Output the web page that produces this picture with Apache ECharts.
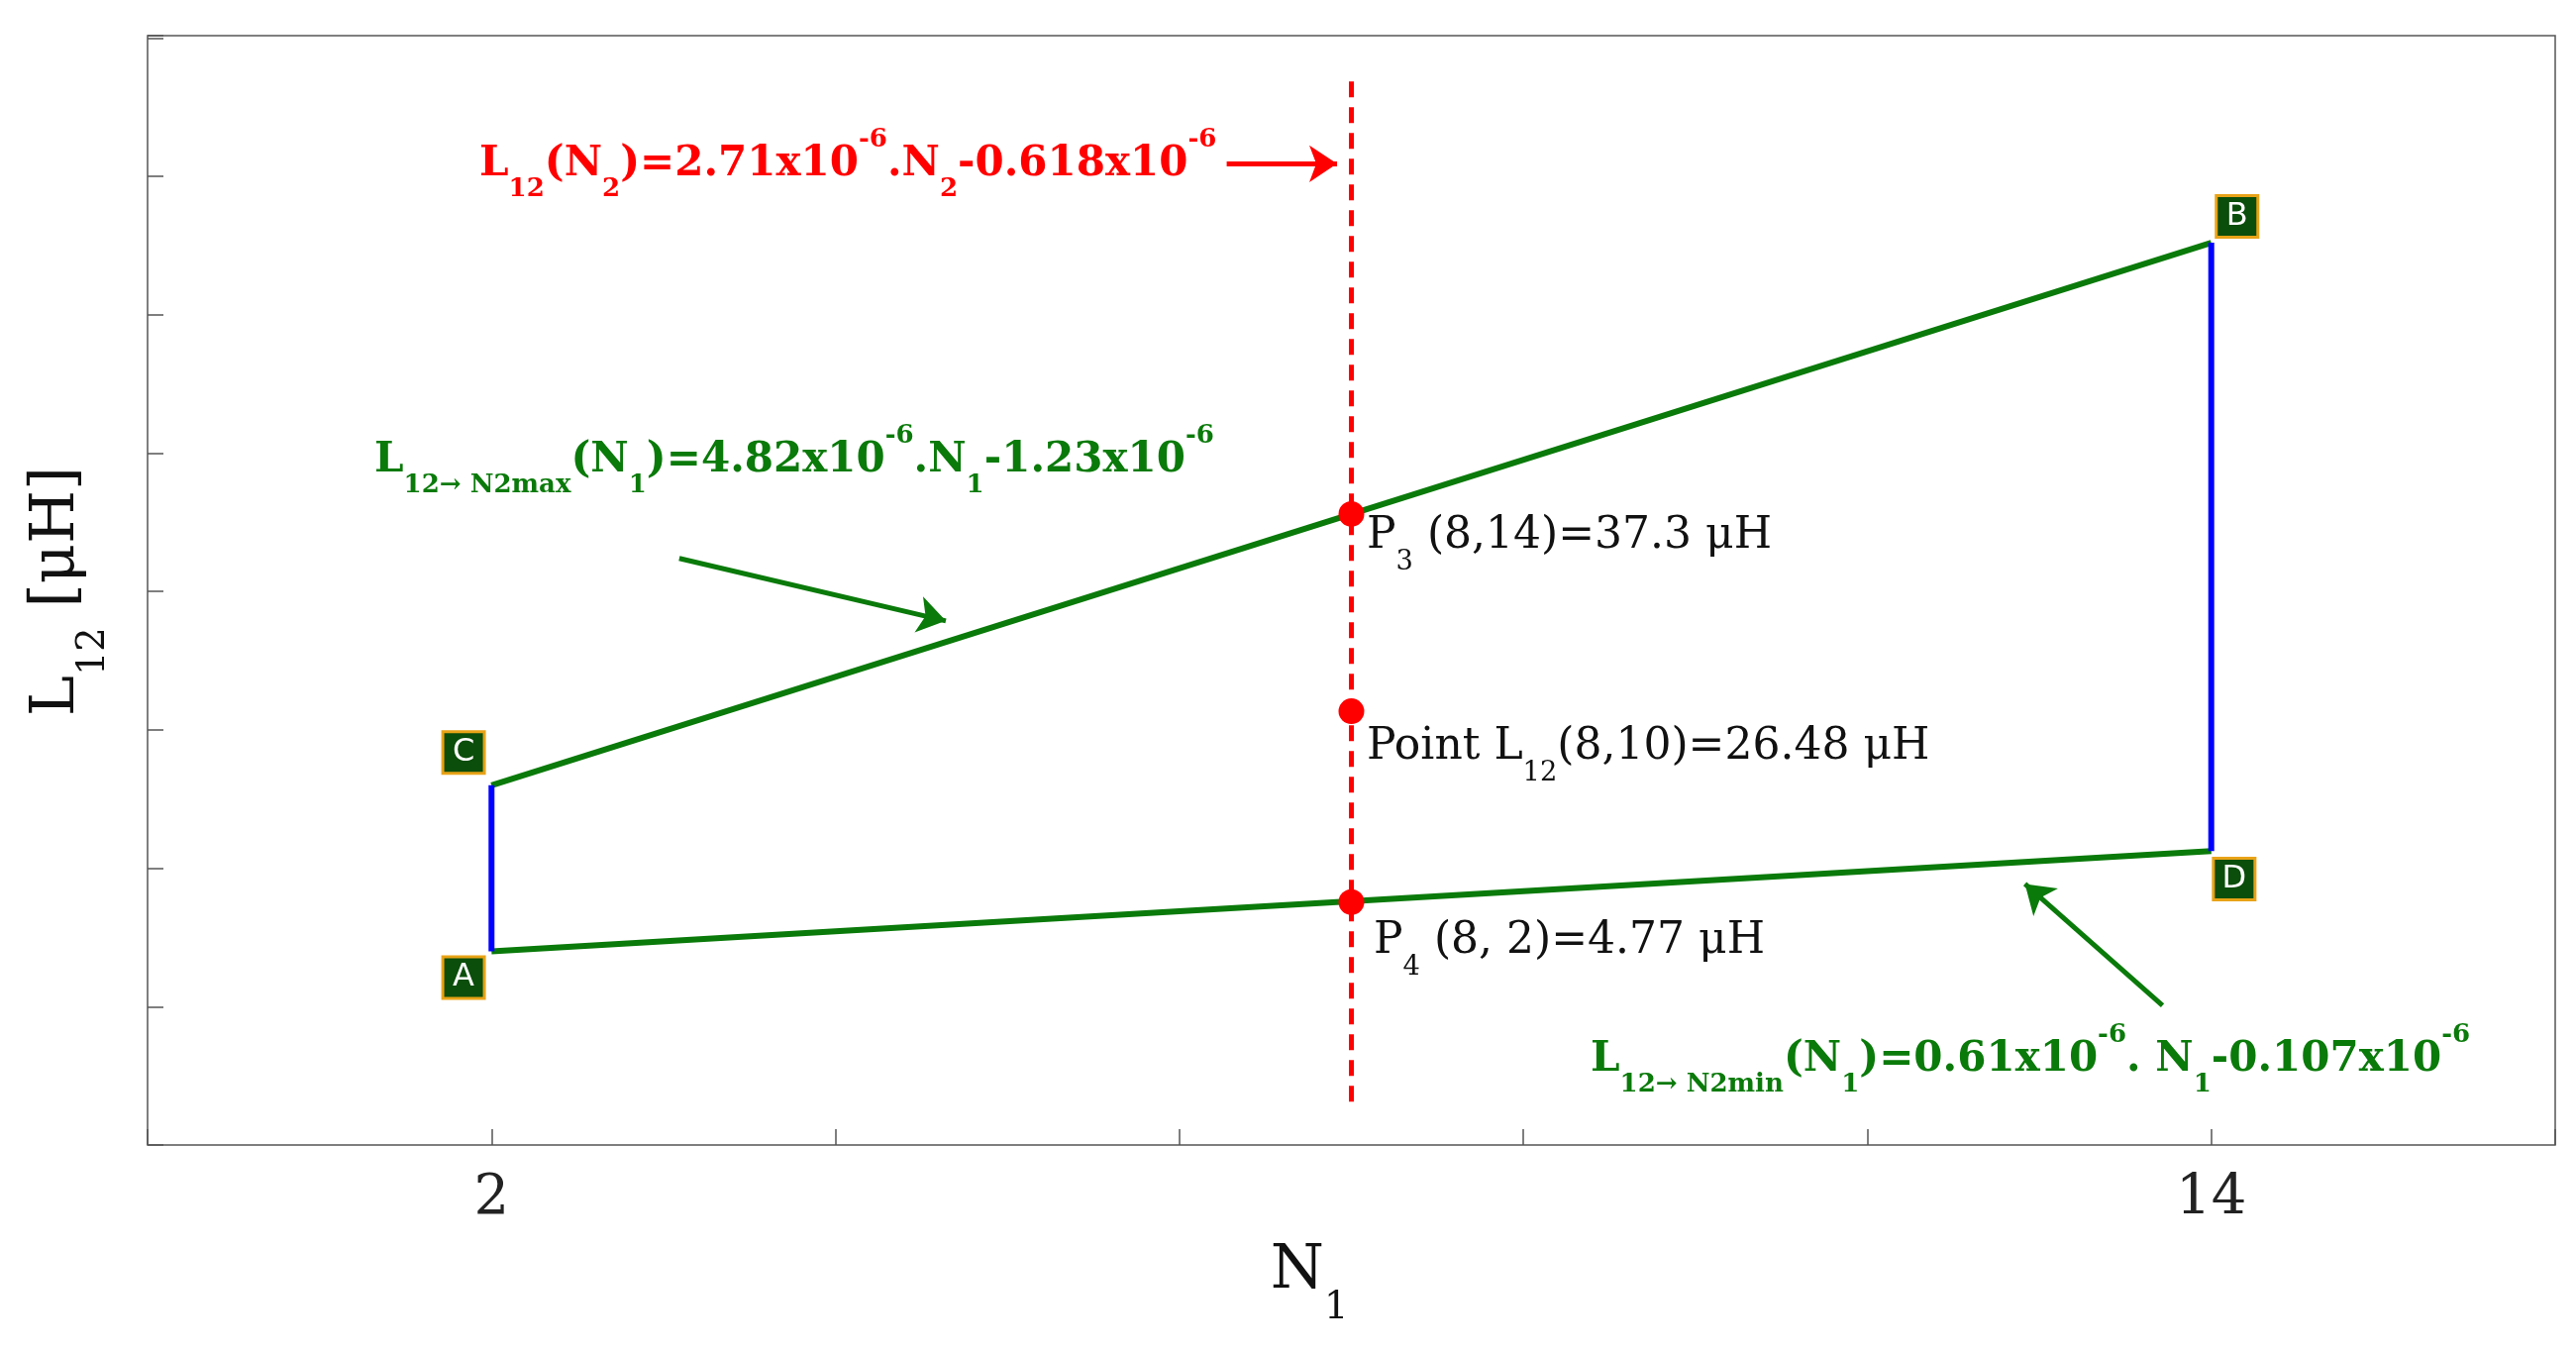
<!DOCTYPE html>
<html>
<head>
<meta charset="utf-8">
<script src="https://cdn.jsdelivr.net/npm/echarts@6/dist/echarts.min.js"></script>
<style>html,body{margin:0;padding:0;background:#fff}#c{width:2601px;height:1366px}</style>
</head>
<body>
<div id="c"></div>
<script>
// corner points of the region (N1, L12 in uH)
let cornerNames = ['A', 'C', 'B', 'D'];
let cornerX = [2, 2, 14, 14];
let cornerY = [0.63, 14.56, 60.04, 9.04];
// label boxes next to the corners
let boxX = [1.805, 1.805, 14.18, 14.16];
let boxY = [-1.57, 17.31, 62.25, 6.7];
// red points on N1 = 8
let pointX = [8, 8, 8];
let pointY = [37.3, 20.76, 4.77];
// dashed line N1 = 8
let dashX = [8, 8];
let dashY = [73.55, -12.6];
// arrows [x0, y0, x1, y1]
let redArrow = [7.13, 66.66, 7.9, 66.66];
let greenArrows = [[3.31, 33.58, 5.17, 28.34], [13.66, -3.91, 12.70, 6.29]];

let serif = '"DejaVu Serif", "Liberation Serif", serif';
let myChart = echarts.init(document.getElementById('c'));

function richText(size, color, bold){
	let w = bold ? 'bold' : 'normal';
	return {
		n: {fontSize: size, fontFamily: serif, fill: color, fontWeight: w, verticalAlign: 'middle', lineHeight: size * 1.8},
		sub: {fontSize: size * 0.62, fontFamily: serif, fill: color, fontWeight: w, verticalAlign: 'bottom', lineHeight: size * 1.8},
		sup: {fontSize: size * 0.62, fontFamily: serif, fill: color, fontWeight: w, verticalAlign: 'top', lineHeight: size * 1.8}
	};
}
function txt(x, y, text, size, color, bold, rot, align){
	return {
		type: 'text', x: x, y: y, rotation: rot || 0,
		style: {text: text, rich: richText(size, color, bold), verticalAlign: 'middle', align: align || 'left', fill: color}
	};
}

let option = {
	animation: false,
	grid: {left: 149, right: 21, top: 36, bottom: 210, show: true, borderColor: '#555', borderWidth: 1.5},
	xAxis: {
		type: 'value', min: -0.4, max: 16.4, interval: 2.4,
		axisLine: {show: false, onZero: false},
		axisTick: {inside: true, length: 16, lineStyle: {color: '#555', width: 1.5}},
		splitLine: {show: false},
		axisLabel: {
			fontSize: 56, fontFamily: serif, color: '#222', margin: 26,
			formatter: function(v){ return (Math.abs(v - 2) < 0.01 || Math.abs(v - 14) < 0.01) ? Math.round(v) : ''; }
		}
	},
	yAxis: {
		type: 'value', min: -15.6, max: 77.4, interval: 11.6,
		axisLine: {show: false, onZero: false},
		axisTick: {inside: true, length: 16, lineStyle: {color: '#555', width: 1.5}},
		splitLine: {show: false},
		axisLabel: {show: false}
	},
	series: [
		{type: 'line', data: [[cornerX[1], cornerY[1]], [cornerX[2], cornerY[2]]], symbol: 'none', lineStyle: {color: '#0a7a0a', width: 6}},
		{type: 'line', data: [[cornerX[0], cornerY[0]], [cornerX[3], cornerY[3]]], symbol: 'none', lineStyle: {color: '#0a7a0a', width: 6}},
		{type: 'line', data: [[cornerX[0], cornerY[0]], [cornerX[1], cornerY[1]]], symbol: 'none', lineStyle: {color: '#0000ff', width: 6}},
		{type: 'line', data: [[cornerX[3], cornerY[3]], [cornerX[2], cornerY[2]]], symbol: 'none', lineStyle: {color: '#0000ff', width: 6}},
		{type: 'line', data: [[dashX[0], dashY[0]], [dashX[1], dashY[1]]], symbol: 'none', lineStyle: {color: '#ff0000', width: 5, type: [16, 10]}, z: 3},
		{type: 'scatter', data: pointX.map((x, i) => [x, pointY[i]]), symbolSize: 26, itemStyle: {color: '#ff0000', opacity: 1}, z: 5},
		{
			type: 'scatter', data: boxX.map((x, i) => [x, boxY[i]]), symbol: 'rect', symbolSize: 42,
			itemStyle: {color: '#0b4d0b', borderColor: '#e8a317', borderWidth: 3, opacity: 1}, z: 6,
			label: {show: true, position: 'inside', color: '#fff', fontSize: 32, fontFamily: 'DejaVu Sans',
				formatter: p => cornerNames[p.dataIndex]}
		},
		{
			type: 'lines', coordinateSystem: 'cartesian2d', symbol: ['none', 'arrow'], symbolSize: 28,
			lineStyle: {color: '#ff0000', width: 5, opacity: 1},
			data: [{coords: [[redArrow[0], redArrow[1]], [redArrow[2], redArrow[3]]]}]
		},
		{
			type: 'lines', coordinateSystem: 'cartesian2d', symbol: ['none', 'arrow'], symbolSize: 28,
			lineStyle: {color: '#0a7a0a', width: 5, opacity: 1},
			data: greenArrows.map(a => ({coords: [[a[0], a[1]], [a[2], a[3]]]}))
		}
	],
	graphic: [
		txt(484, 166, '{n|L}{sub|12}{n|(N}{sub|2}{n|)=2.71x10}{sup|-6}{n|.N}{sub|2}{n|-0.618x10}{sup|-6}', 42, '#ff0000', true),
		txt(378, 465, '{n|L}{sub|12→ N}{sub|2max}{n|(N}{sub|1}{n|)=4.82x10}{sup|-6}{n|.N}{sub|1}{n|-1.23x10}{sup|-6}', 42, '#0a7a0a', true),
		txt(1606, 1070, '{n|L}{sub|12→ N}{sub|2min}{n|(N}{sub|1}{n|)=0.61x10}{sup|-6}{n|. N}{sub|1}{n|-0.107x10}{sup|-6}', 42, '#0a7a0a', true),
		txt(1380, 542, '{n|P}{sub|3}{n| (8,14)=37.3 μH}', 44, '#111', false),
		txt(1380, 755, '{n|Point L}{sub|12}{n|(8,10)=26.48 μH}', 44, '#111', false),
		txt(1387, 951, '{n|P}{sub|4}{n| (8, 2)=4.77 μH}', 44, '#111', false),
		txt(1322, 1284, '{n|N}{sub|1}', 62, '#111', false, 0, 'center'),
		txt(58, 597, '{n|L}{sub|12}{n| [μH]}', 62, '#111', false, Math.PI / 2, 'center')
	]
};
myChart.setOption(option);
</script>
</body>
</html>
